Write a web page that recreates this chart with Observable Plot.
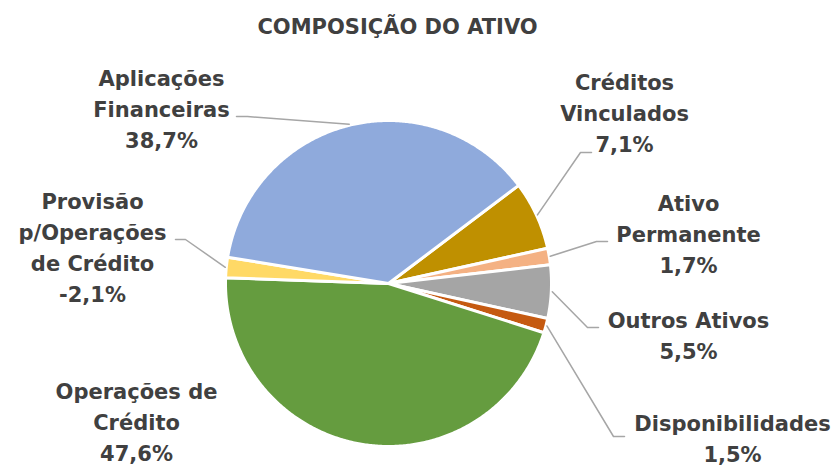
<!DOCTYPE html>
<html><head><meta charset="utf-8">
<script src="https://cdn.jsdelivr.net/npm/d3@7"></script>
<script src="https://cdn.jsdelivr.net/npm/@observablehq/plot@0.6"></script>
<style>body{margin:0;background:#fff}</style>
</head><body><div id="chart"></div>
<script>
// ---- data ----
const title = "COMPOSIÇÃO DO ATIVO";
const categories = ["Créditos Vinculados","Ativo Permanente","Outros Ativos","Disponibilidades","Operações de Crédito","Provisão p/Operações de Crédito","Aplicações Financeiras"];
const values = [7.1, 1.7, 5.5, 1.5, 47.6, -2.1, 38.7];
const colors = ["#BF9000","#F4B183","#A5A5A5","#C55A11","#659C3F","#FFD966","#8FAADC"];
const labelLines = [["Créditos","Vinculados"],["Ativo","Permanente"],["Outros Ativos"],["Disponibilidades"],["Operações de","Crédito"],["Provisão","p/Operações","de Crédito"],["Aplicações","Financeiras"]];

// ---- layout ----
const W = 836, H = 467, cx = 388, cy = 283, R = 163, startDeg = 53, lineGap = 31;
const labelPos = [
  {x:624, y:89,  elbow:[580,152], end:[591,152]},
  {x:688, y:210, elbow:[596,241], end:[607,241]},
  {x:688, y:327, elbow:[587,327], end:[598,327]},
  {x:732, y:430, elbow:[613,436], end:[624,436]},
  {x:136, y:398, elbow:null, end:null},
  {x:92,  y:208, elbow:[185,239], end:[175,239]},
  {x:161, y:85,  elbow:[247,116], end:[236,116]}
];

const data = categories.map((c, i) => ({name: c, value: values[i], color: colors[i], i}));
const a0 = startDeg * Math.PI / 180;
const arcs = d3.pie().value(d => Math.abs(d.value)).sort(null).startAngle(a0).endAngle(a0 + 2 * Math.PI)(data);
const pt = (a, r) => [cx + r * Math.sin(a), cy - r * Math.cos(a)];

const slicePts = arcs.flatMap(a => {
  const n = Math.max(2, Math.ceil((a.endAngle - a.startAngle) / (Math.PI / 360)));
  const pts = [{name: a.data.name, color: a.data.color, x: cx, y: cy}];
  for (let k = 0; k <= n; k++) {
    const t = a.startAngle + (a.endAngle - a.startAngle) * k / n;
    const [x, y] = pt(t, R);
    pts.push({name: a.data.name, color: a.data.color, x, y});
  }
  return pts;
});

const leaderPts = arcs.flatMap(a => {
  const L = labelPos[a.data.i];
  if (!L.elbow) return [];
  const [sx, sy] = pt((a.startAngle + a.endAngle) / 2, R + 1);
  return [
    {name: a.data.name, x: sx, y: sy},
    {name: a.data.name, x: L.elbow[0], y: L.elbow[1]},
    {name: a.data.name, x: L.end[0], y: L.end[1]}
  ];
});

const fmt = v => v.toFixed(1).replace(".", ",") + "%";
const textRows = data.flatMap(d => {
  const L = labelPos[d.i];
  const lines = [...labelLines[d.i], fmt(d.value)];
  return lines.map((t, k) => ({text: t, x: L.x, y: L.y + k * lineGap}));
});

const chart = Plot.plot({
  width: W, height: H,
  margin: 0,
  x: {domain: [0, W], range: [0, W], axis: null},
  y: {domain: [0, H], range: [0, H], axis: null},
  style: {fontFamily: "DejaVu Sans", background: "#fff"},
  marks: [
    Plot.line(slicePts, {x: "x", y: "y", z: "name", fill: "color", stroke: "white", strokeWidth: 3, strokeLinejoin: "round", curve: "linear-closed"}),
    Plot.line(leaderPts, {x: "x", y: "y", z: "name", stroke: "#A6A6A6", strokeWidth: 1.5}),
    Plot.text(textRows, {x: "x", y: "y", text: "text", fontSize: 21, fontWeight: "bold", fill: "#404040", textAnchor: "middle", lineAnchor: "bottom"}),
    Plot.text([title], {x: [397], y: [33], text: d => d, fontSize: 21, fontWeight: "bold", fill: "#404040", textAnchor: "middle", lineAnchor: "bottom"})
  ]
});
document.getElementById("chart").appendChild(chart);
</script>
</body></html>
